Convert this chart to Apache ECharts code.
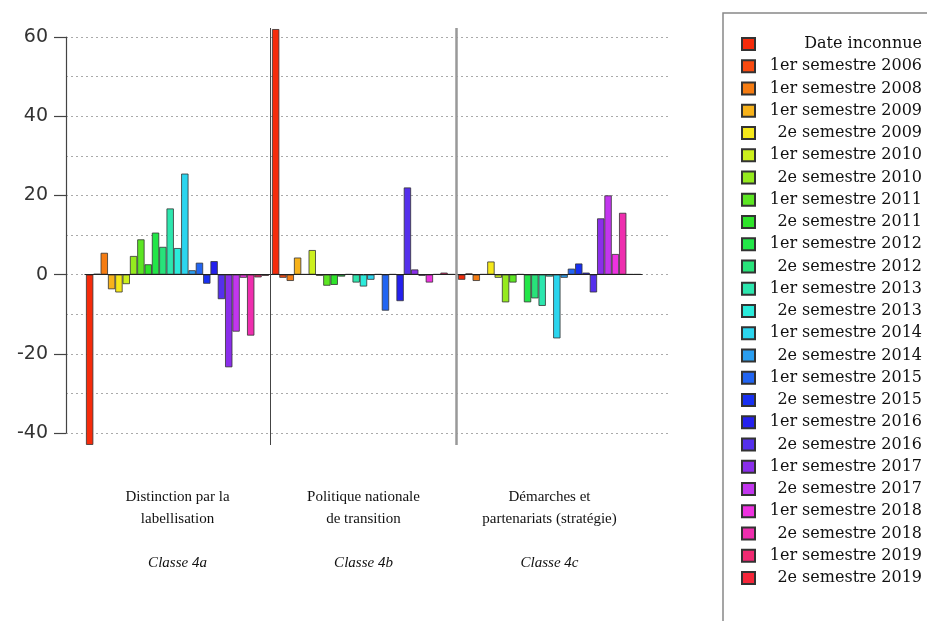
<!DOCTYPE html>
<html>
<head>
<meta charset="utf-8">
<script src="https://cdn.jsdelivr.net/npm/echarts@6/dist/echarts.min.js"></script>
<style>
  html, body { margin: 0; padding: 0; background: #fff; }
  #chart { width: 927px; height: 621px; }
</style>
</head>
<body>
<div id="chart"></div>
<script>
var periodes = ['Date inconnue', '1er semestre 2006', '1er semestre 2008', '1er semestre 2009', '2e semestre 2009',
  '1er semestre 2010', '2e semestre 2010', '1er semestre 2011', '2e semestre 2011', '1er semestre 2012',
  '2e semestre 2012', '1er semestre 2013', '2e semestre 2013', '1er semestre 2014', '2e semestre 2014',
  '1er semestre 2015', '2e semestre 2015', '1er semestre 2016', '2e semestre 2016', '1er semestre 2017',
  '2e semestre 2017', '1er semestre 2018', '2e semestre 2018', '1er semestre 2019', '2e semestre 2019'];
var groupes = ['Distinction par la\nlabellisation', 'Politique nationale\nde transition', 'Démarches et\npartenariats (stratégie)'];
var classes = ['Classe 4a', 'Classe 4b', 'Classe 4c'];

// une valeur par période, pour chaque classe
var classe4a = [-43, 0.2, 5.5, -3.7, -4.5, -2.4, 4.7, 8.9, 2.6, 10.6, 7.0, 16.7, 6.7, 25.5, 1.1, 3.0, -2.3, 3.4, -6.2, -23.4, -14.4, -0.8, -15.4, -0.7, -0.3];
var classe4b = [62, -0.8, -1.6, 4.3, 0.1, 6.2, -0.3, -2.8, -2.6, -0.5, 0.1, -2.0, -3.0, -1.3, 0.1, -9.1, 0.1, -6.7, 22.0, 1.3, -0.3, -2.0, 0.1, 0.5, 0.1];
var classe4c = [-1.3, 0.3, -1.6, 0.1, 3.3, -0.8, -7.0, -2.0, 0.1, -7.0, -6.0, -7.9, -0.5, -16.1, -0.8, 1.5, 2.8, 0.5, -4.5, 14.2, 20.0, 5.2, 15.6, 0.1, 0.1];
var yTicks = [-40, -20, 0, 20, 40, 60];

var couleurs = ['#F52B0B', '#F84A10', '#F57C12', '#F7B21A', '#F5E81A', '#CCF01E', '#95EA1E', '#5CE623',
  '#2EE42A', '#22E648', '#28E27A', '#2DE6AE', '#2BEBDB', '#2BD5EE', '#2A9EF0', '#2265F2', '#1830F2',
  '#2420EE', '#5530EC', '#8A2EEA', '#C236EE', '#EE32E0', '#EE2EAE', '#F02A72', '#F5263A'];

var chart = echarts.init(document.getElementById('chart'));

var series = periodes.map(function (p, i) {
  var s = {
    name: p,
    type: 'bar',
    xAxisIndex: 1,
    yAxisIndex: 1,
    barGap: '0%',
    barCategoryGap: '1.6%',
    data: [classe4a[i], classe4b[i], classe4c[i]],
    itemStyle: { color: couleurs[i], borderColor: '#333', borderWidth: 0.8 },
    emphasis: { disabled: true }
  };
  if (i === 0) {
    s.markLine = {
      silent: true, symbol: 'none', label: { show: false },
      lineStyle: { color: '#222', width: 1, type: 'solid' },
      data: [{ yAxis: 0 }]
    };
  }
  return s;
});

// séparateurs entre les classes
series.push({
  type: 'line',
  xAxisIndex: 2,
  yAxisIndex: 2,
  data: [],
  markLine: {
    silent: true, symbol: 'none', label: { show: false },
    data: groupes.slice(1).map(function (g, i) {
      return {
        xAxis: i + 1,
        lineStyle: i === 0 ? { color: '#444', width: 1, type: 'solid' } : { color: '#999', width: 2.5, type: 'solid' }
      };
    })
  }
});

var option = {
  animation: false,
  backgroundColor: '#fff',
  grid: [
    { left: 66, right: 257, top: 37, bottom: 188 },
    // même échelle que la grille 0, étendue de 5 unités en haut et en bas
    { left: 84.5, width: 558, top: 17.2, bottom: 168.2 },
    { left: 84.5, width: 558, top: 28, bottom: 176 }
  ],
  xAxis: [
    { gridIndex: 0, type: 'value', show: false, min: 0, max: 1 },
    {
      gridIndex: 1, type: 'category', data: groupes,
      axisLine: { show: false }, axisTick: { show: false },
      axisLabel: {
        margin: 33,
        interval: 0,
        formatter: function (v, idx) {
          var lignes = v.split('\n').map(function (l) { return '{t|' + l + '}'; });
          return lignes.join('\n') + '\n{g| }\n{c|' + classes[idx] + '}';
        },
        rich: {
          t: { fontFamily: 'Liberation Serif', fontSize: 15, lineHeight: 22, color: '#111' },
          g: { fontSize: 10, lineHeight: 22 },
          c: { fontFamily: 'Liberation Serif', fontSize: 15, fontStyle: 'italic', lineHeight: 22, color: '#111' }
        }
      }
    },
    { gridIndex: 2, type: 'value', show: false, min: 0, max: groupes.length }
  ],
  yAxis: [
    {
      gridIndex: 0, type: 'value',
      min: yTicks[0], max: yTicks[yTicks.length - 1], interval: 20,
      offset: 3,
      axisLine: { show: true, lineStyle: { color: '#444', width: 1.2 } },
      axisTick: { show: true, inside: false, length: 12, lineStyle: { color: '#444', width: 1.2 } },
      axisLabel: { margin: 15, fontFamily: 'DejaVu Sans', fontSize: 19, color: '#333' },
      splitLine: { show: true, lineStyle: { color: '#aaa', type: [2, 3], width: 1 } },
      minorTick: { show: false, splitNumber: 2 },
      minorSplitLine: { show: true, lineStyle: { color: '#aaa', type: [2, 3], width: 1 } }
    },
    { gridIndex: 1, type: 'value', show: false, min: yTicks[0] - 5, max: yTicks[yTicks.length - 1] + 5, splitLine: { show: false } },
    { gridIndex: 2, type: 'value', show: false, min: 0, max: 1, splitLine: { show: false } }
  ],
  legend: {
    orient: 'vertical',
    left: 736,
    top: 31,
    data: periodes,
    icon: 'rect',
    itemWidth: 13,
    itemHeight: 12,
    itemGap: 6.25,
    selectedMode: false,
    formatter: function (name) { return '{r|' + name + '}'; },
    textStyle: {
      rich: {
        r: { width: 162, align: 'right', fontFamily: 'DejaVu Serif', fontSize: 16, lineHeight: 16, color: '#111' }
      }
    }
  },
  graphic: [
    { type: 'rect', shape: { x: 723, y: 13, width: 260, height: 700 }, style: { fill: 'none', stroke: '#888', lineWidth: 1.5 }, silent: true }
  ],
  series: series
};

chart.setOption(option);
</script>
</body>
</html>
